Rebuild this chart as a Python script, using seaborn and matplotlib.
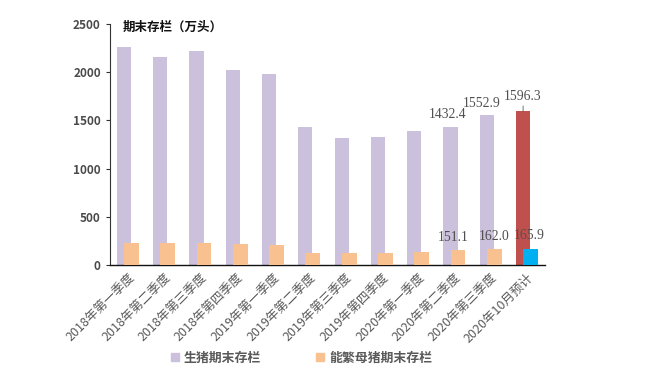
import matplotlib
matplotlib.use('Agg')
import matplotlib.pyplot as plt
import seaborn as sns
import numpy as np
from matplotlib.lines import Line2D

# data
quarters = ['2018年第一季度', '2018年第二季度', '2018年第三季度', '2018年第四季度',
            '2019年第一季度', '2019年第二季度', '2019年第三季度', '2019年第四季度',
            '2020年第一季度', '2020年第二季度', '2020年第三季度', '2020年10月预计']
hogs = [2258, 2161, 2220, 2020, 1981, 1431, 1314, 1330, 1390, 1432.4, 1552.9, 1596.3]
sows = [225, 225, 225, 215, 204, 124, 124, 124, 140, 151.1, 162.0, 165.9]
labelled = [9, 10, 11]
# label nudges (category units), as placed in the original
hog_nudge = [-0.08, -0.15, 0.0]
sow_nudge = [-0.14, 0.0, -0.05]
hog_lift = [125, 125, 155]

purple = '#CBC1DC'
orange = '#F9C18F'
red = '#C0504D'
blue = '#00B0F0'
gray = '#595959'

sns.set_style('white')
plt.rcParams['font.family'] = ['Noto Sans CJK SC', 'DejaVu Sans']

fig = plt.figure(figsize=(6.5, 3.71), dpi=100)
ax = fig.add_axes([0.169, 0.2857, 0.670, 0.6496])

hog_colors = [purple] * (len(quarters) - 1) + [red]
sow_colors = [orange] * (len(quarters) - 1) + [blue]

sns.barplot(x=quarters, y=hogs, hue=quarters, palette=hog_colors, legend=False,
            width=0.39, saturation=1, linewidth=0, ax=ax)
n_hog = len(ax.patches)
sns.barplot(x=quarters, y=sows, hue=quarters, palette=sow_colors, legend=False,
            width=0.41, saturation=1, linewidth=0, ax=ax)
for i, p in enumerate(ax.patches):
    if i < n_hog:
        p.set_x(p.get_x() - 0.113)
    else:
        p.set_x(p.get_x() + 0.094)
        p.set_zorder(3)

for k, i in enumerate(labelled):
    kw = {}
    if i == len(quarters) - 1:
        kw = dict(arrowprops=dict(arrowstyle='-', color=gray, lw=0.6, shrinkA=0, shrinkB=0))
    ax.annotate(f'{hogs[i]:.1f}', xy=(i - 0.113, hogs[i]),
                xytext=(i - 0.113 + hog_nudge[k], hogs[i] + hog_lift[k]),
                ha='center', va='center', fontsize=9.8, color='#505050', family='Liberation Serif',
                zorder=5, **kw)
    ax.annotate(f'{sows[i]:.1f}', xy=(i + 0.094, sows[i]),
                xytext=(i + 0.094 + sow_nudge[k], sows[i] + 135),
                ha='center', va='center', fontsize=9.8, color='#505050', family='Liberation Serif',
                zorder=5)

ax.set_xlim(-0.5, len(quarters) - 0.5)
ax.set_ylim(0, 2500)
ax.set_yticks(np.arange(0, 2501, 500))
ax.tick_params(axis='y', labelsize=8.5, labelcolor='#4a4a4a', left=True, length=3, color='#333333')
ax.tick_params(axis='x', labelsize=9, labelcolor=gray, bottom=False, pad=1)
plt.setp(ax.get_xticklabels(), rotation=45, ha='right', rotation_mode='anchor')
for lab in ax.get_yticklabels():
    lab.set_fontweight('bold')
sns.despine(ax=ax)
ax.spines['left'].set_color('#333333')
ax.spines['bottom'].set_color('#111111')
ax.spines['left'].set_linewidth(0.8)
ax.spines['bottom'].set_linewidth(1.0)

ax.text(0.03, 0.988, '期末存栏（万头）', transform=ax.transAxes, fontsize=9,
        fontweight='bold', color='#111111', va='center', ha='left')

handles = [Line2D([], [], marker='s', ls='', color=purple, markersize=6),
           Line2D([], [], marker='s', ls='', color=orange, markersize=6)]
fig.legend(handles, ['生猪期末存栏', '能繁母猪期末存栏'], loc='center', bbox_to_anchor=(0.462, 0.035),
           ncol=2, frameon=False, labelcolor=gray, columnspacing=4.1,
           handletextpad=0.2, handlelength=1, prop={'weight': 'bold', 'size': 9.3})

fig.savefig('out.png', dpi=100)
